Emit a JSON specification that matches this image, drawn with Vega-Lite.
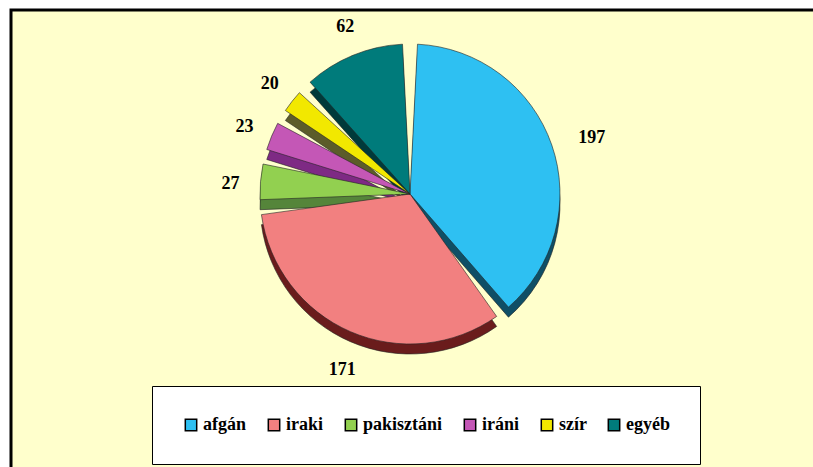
{
  "$schema": "https://vega.github.io/schema/vega-lite/v6.json",
  "width": 810,
  "height": 470,
  "autosize": "none",
  "padding": {"left": 11, "top": 10, "right": 0, "bottom": 0},
  "background": "#FFFFFF",
  "config": {
    "view": {"stroke": null},
    "font": "Times New Roman",
    "legend": {"labelFont": "Liberation Serif", "labelFontWeight": "bold", "labelFontSize": 18, "labelColor": "#000000"}
  },
  "data": {
    "values": [
      {"nemzetiseg": "afgán", "fo": 197, "sorrend": 1},
      {"nemzetiseg": "iraki", "fo": 171, "sorrend": 2},
      {"nemzetiseg": "pakisztáni", "fo": 27, "sorrend": 3},
      {"nemzetiseg": "iráni", "fo": 23, "sorrend": 4},
      {"nemzetiseg": "szír", "fo": 20, "sorrend": 5},
      {"nemzetiseg": "egyéb", "fo": 62, "sorrend": 6}
    ]
  },
  "layer": [
    {
      "data": {"values": [{"keret": "háttér"}]},
      "mark": {"type": "rect", "fill": "#FFFFCC", "stroke": "#000000", "strokeWidth": 3},
      "encoding": {}
    },
    {
      "mark": {"type": "arc", "outerRadius": 150, "padAngle": 0.1, "x": 399, "y": 194, "stroke": "#222222", "strokeWidth": 0.6},
      "encoding": {
        "theta": {"field": "fo", "type": "quantitative", "stack": true},
        "order": {"field": "sorrend", "type": "quantitative"},
        "fill": {
          "field": "nemzetiseg", "type": "nominal", "legend": null,
          "scale": {
            "domain": ["afgán", "iraki", "pakisztáni", "iráni", "szír", "egyéb"],
            "range": ["#0F4F66", "#6A1C1C", "#55853A", "#7E2A84", "#5C5C2A", "#003A3A"]
          }
        }
      }
    },
    {
      "mark": {"type": "arc", "outerRadius": 150, "padAngle": 0.1, "x": 399, "y": 184, "stroke": "#222222", "strokeWidth": 0.6},
      "encoding": {
        "theta": {"field": "fo", "type": "quantitative", "stack": true},
        "order": {"field": "sorrend", "type": "quantitative"},
        "color": {
          "field": "nemzetiseg", "type": "nominal",
          "scale": {
            "domain": ["afgán", "iraki", "pakisztáni", "iráni", "szír", "egyéb"],
            "range": ["#2EC0F2", "#F28080", "#92D050", "#C457B6", "#F2E800", "#007B7B"]
          },
          "legend": {
            "title": null,
            "orient": "none",
            "legendX": 141,
            "legendY": 376,
            "direction": "horizontal",
            "columns": 6,
            "symbolType": "square",
            "symbolSize": 130,
            "symbolStrokeColor": "#000000",
            "symbolStrokeWidth": 1.5,
            "symbolOpacity": 1,
            "labelFont": "Liberation Serif",
            "labelFontWeight": "bold",
            "labelFontSize": 18,
            "labelColor": "#000000",
            "labelOffset": 3,
            "columnPadding": 18,
            "padding": 30,
            "fillColor": "#FFFFFF",
            "strokeColor": "#000000",
            "labelLimit": 200,
            "encode": {
              "labels": {"update": {"font": {"value": "Liberation Serif"}, "fontWeight": {"value": "bold"}}}
            }
          }
        }
      }
    },
    {
      "mark": {"type": "text", "radius": 186, "x": 405, "y": 189, "font": "Times New Roman", "fontWeight": "bold", "fontSize": 18, "color": "#000000"},
      "encoding": {
        "theta": {"field": "fo", "type": "quantitative", "stack": true},
        "order": {"field": "sorrend", "type": "quantitative"},
        "text": {"field": "fo", "type": "quantitative"}
      }
    }
  ],
  "resolve": {"scale": {"color": "independent", "fill": "independent"}}
}
